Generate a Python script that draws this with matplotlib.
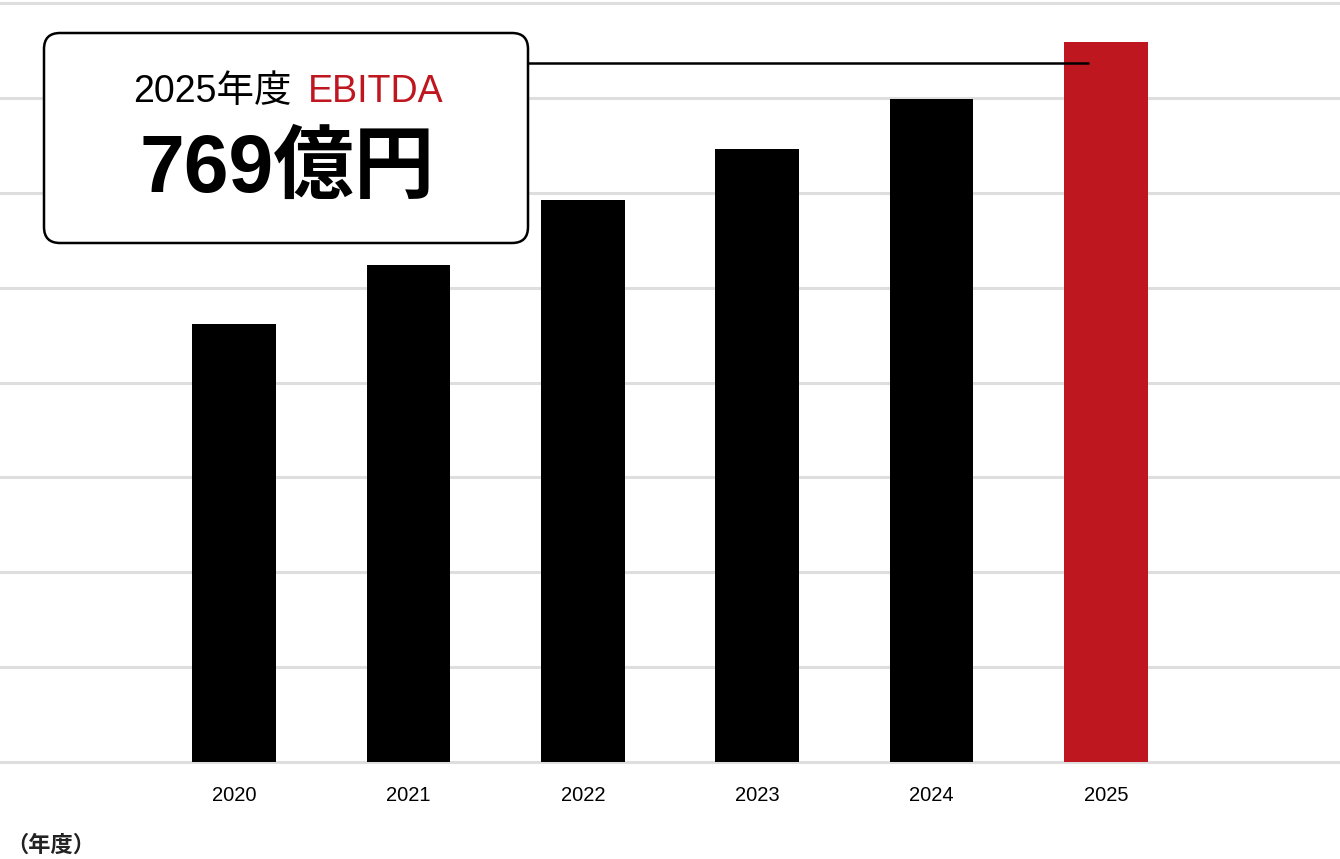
import matplotlib
matplotlib.use("Agg")
import matplotlib.pyplot as plt
import numpy as np
from matplotlib.patches import FancyBboxPatch

plt.rcParams['font.family'] = ['Liberation Sans', 'Noto Sans CJK JP', 'DejaVu Sans']

# EBITDA (億円)
years = ["2020", "2021", "2022", "2023", "2024", "2025"]
ebitda = [468, 531, 600, 655, 708, 769]
highlight_year = "2025"
box_title = "2025年度"
box_metric = "EBITDA"
box_value = "769億円"
unit_label = "（年度）"

RED = "#BE1720"
GRID = "#dedede"

fig = plt.figure(figsize=(13.4, 8.59), dpi=100)
ax = fig.add_axes([0, (859 - 762) / 859, 1, (762 - 3) / 859])

x = np.arange(len(years))
width = 0.48
colors = [RED if y == highlight_year else "black" for y in years]
ax.bar(x, ebitda, width=width, color=colors, zorder=3)

ymax = 810.7
ax.set_ylim(0, ymax)
ax.set_xlim(-234 / 174.4, len(years) - 1 + 234 / 174.4)
for g in np.linspace(0, ymax, 9):
    ax.axhline(g, color=GRID, lw=2.2, zorder=1, clip_on=False)

ax.set_xticks(x)
ax.set_xticklabels(years, fontsize=14.5)
ax.tick_params(axis='x', length=0, pad=17)
ax.set_yticks([])
for s in ax.spines.values():
    s.set_visible(False)

# leader line from the callout box into the 2025 bar
ax.plot([(528 - 234) / 174.4, len(years) - 1 - width / 2 + 0.14], [ebitda[-1] - 22] * 2,
        color="black", lw=1.8, zorder=4, solid_capstyle='butt')

# overlay in pixel coordinates for the callout
ov = fig.add_axes([0, 0, 1, 1], zorder=5)
ov.set_xlim(0, 1340)
ov.set_ylim(859, 0)
ov.axis("off")
ov.patch.set_alpha(0)

box = FancyBboxPatch((44, 33), 484, 210, boxstyle="round,pad=0,rounding_size=16",
                     facecolor="white", edgecolor="black", lw=1.8)
ov.add_patch(box)
ov.text(292, 92, box_title, ha='right', va='center', fontsize=27, color="black")
ov.text(308, 92, box_metric, ha='left', va='center', fontsize=27, color=RED)
ov.text(287, 171, box_value, ha='center', va='center', fontsize=58,
        fontweight='bold', color="black")

ov.text(6, 846, unit_label, ha='left', va='center', fontsize=16,
        fontweight='bold', color="#222222")

fig.savefig("out.png", dpi=100)
